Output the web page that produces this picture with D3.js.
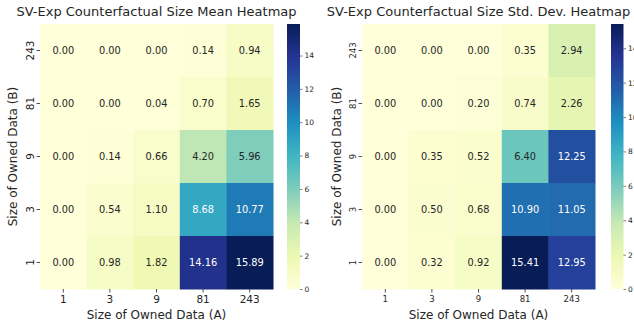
<!DOCTYPE html>
<html>
<head>
<meta charset="utf-8">
<script src="https://cdn.jsdelivr.net/npm/d3@7"></script>
<style>
  body { margin: 0; background: #fff; }
  svg { display: block; font-family: "DejaVu Sans", sans-serif; }
</style>
</head>
<body>
<svg id="chart" width="634" height="324"></svg>
<script>
// categories (A on x, B on y, rows listed top to bottom)
const sizesA = ["1", "3", "9", "81", "243"];
const sizesB = ["243", "81", "9", "3", "1"];

// mean counterfactual size, rows follow sizesB
const meanValues = [
  [0.00, 0.00, 0.00, 0.14, 0.94],
  [0.00, 0.00, 0.04, 0.70, 1.65],
  [0.00, 0.14, 0.66, 4.20, 5.96],
  [0.00, 0.54, 1.10, 8.68, 10.77],
  [0.00, 0.98, 1.82, 14.16, 15.89],
];

// std. dev. of counterfactual size
const stdValues = [
  [0.00, 0.00, 0.00, 0.35, 2.94],
  [0.00, 0.00, 0.20, 0.74, 2.26],
  [0.00, 0.35, 0.52, 6.40, 12.25],
  [0.00, 0.50, 0.68, 10.90, 11.05],
  [0.00, 0.32, 0.92, 15.41, 12.95],
];

const colorbarTicks = [0, 2, 4, 6, 8, 10, 12, 14];

// colorbrewer YlGnBu, interpolated linearly like matplotlib
const ylgnbu = d3.piecewise(d3.interpolateRgb, [
  "#ffffd9", "#edf8b1", "#c7e9b4", "#7fcdbb", "#41b6c4",
  "#1d91c0", "#225ea8", "#253494", "#081d58",
]);

const svg = d3.select("#chart");
const textColor = "#262626";

const panels = [
  {
    title: "SV-Exp Counterfactual Size Mean Heatmap",
    values: meanValues,
    x0: 40, x1: 273, y0: 24, y1: 289,
    cbX: 287, cbW: 13,
    tickFont: 10.5,
  },
  {
    title: "SV-Exp Counterfactual Size Std. Dev. Heatmap",
    values: stdValues,
    x0: 362, x1: 595, y0: 24, y1: 289,
    cbX: 611, cbW: 12.5,
    tickFont: 8.5,
  },
];

function drawPanel(p, idx) {
  const g = svg.append("g").attr("class", "panel-" + idx);
  const vmax = d3.max(p.values.flat());
  const color = d3.scaleSequential(ylgnbu).domain([0, vmax]);

  const xScale = d3.scaleBand().domain(sizesA).range([p.x0, p.x1]);
  const yScale = d3.scaleBand().domain(sizesB).range([p.y0, p.y1]);

  const cells = [];
  p.values.forEach((row, i) => {
    row.forEach((v, j) => cells.push({ a: sizesA[j], b: sizesB[i], v: v }));
  });

  g.selectAll(".cell")
    .data(cells)
    .join("rect")
    .attr("class", "cell")
    .attr("x", (d) => xScale(d.a))
    .attr("y", (d) => yScale(d.b))
    .attr("width", xScale.bandwidth() + 0.5)
    .attr("height", yScale.bandwidth() + 0.5)
    .attr("fill", (d) => color(d.v));

  // seaborn style: dark text on light cells, white on dark ones
  const lum = (c) => {
    const rgb = d3.rgb(c);
    const f = (u) => {
      u = u / 255;
      return u <= 0.03928 ? u / 12.92 : Math.pow((u + 0.055) / 1.055, 2.4);
    };
    return 0.2126 * f(rgb.r) + 0.7152 * f(rgb.g) + 0.0722 * f(rgb.b);
  };

  g.selectAll(".annot")
    .data(cells)
    .join("text")
    .attr("class", "annot")
    .attr("x", (d) => xScale(d.a) + xScale.bandwidth() / 2)
    .attr("y", (d) => yScale(d.b) + yScale.bandwidth() / 2)
    .attr("dy", "0.35em")
    .attr("text-anchor", "middle")
    .attr("font-size", 9.8)
    .attr("fill", (d) => (lum(color(d.v)) > 0.408 ? textColor : "#ffffff"))
    .text((d) => d.v.toFixed(2));

  // x axis
  const xAxis = d3.axisBottom(xScale).tickSize(3.5).tickPadding(3);
  const gx = g.append("g")
    .attr("transform", `translate(0,${p.y1})`)
    .call(xAxis);
  gx.select(".domain").remove();
  gx.selectAll("line").attr("stroke", textColor).attr("stroke-width", 0.8);
  gx.selectAll("text")
    .attr("fill", textColor)
    .attr("font-size", p.tickFont)
    .attr("font-family", "DejaVu Sans");

  // y axis, labels rotated
  const yAxis = d3.axisLeft(yScale).tickSize(3.5).tickPadding(3);
  const gy = g.append("g")
    .attr("transform", `translate(${p.x0},0)`)
    .call(yAxis);
  gy.select(".domain").remove();
  gy.selectAll("line").attr("stroke", textColor).attr("stroke-width", 0.8);
  gy.selectAll("text")
    .attr("fill", textColor)
    .attr("font-size", p.tickFont)
    .attr("font-family", "DejaVu Sans")
    .attr("x", null)
    .attr("dy", null)
    .attr("text-anchor", "middle")
    .attr("transform", `translate(${-6.5},0) rotate(-90)`);

  // titles and labels
  g.append("text")
    .attr("x", (p.x0 + p.x1) / 2)
    .attr("y", 16)
    .attr("text-anchor", "middle")
    .attr("font-size", 13)
    .attr("fill", textColor)
    .text(p.title);

  g.append("text")
    .attr("x", (p.x0 + p.x1) / 2)
    .attr("y", 319)
    .attr("text-anchor", "middle")
    .attr("font-size", 12)
    .attr("fill", textColor)
    .text("Size of Owned Data (A)");

  g.append("text")
    .attr("transform", `translate(${p.x0 - (idx === 0 ? 23 : 21)},${(p.y0 + p.y1) / 2}) rotate(-90)`)
    .attr("text-anchor", "middle")
    .attr("font-size", 12)
    .attr("fill", textColor)
    .text("Size of Owned Data (B)");

  // colorbar
  const cbScale = d3.scaleLinear().domain([0, vmax]).range([p.y1, p.y0]);
  const defs = svg.append("defs");
  const gradId = "grad-" + idx;
  const grad = defs.append("linearGradient")
    .attr("id", gradId)
    .attr("x1", 0).attr("y1", 1).attr("x2", 0).attr("y2", 0);
  d3.range(0, 1.0001, 0.125).forEach((t) => {
    grad.append("stop")
      .attr("offset", t)
      .attr("stop-color", ylgnbu(t));
  });
  g.append("rect")
    .attr("x", p.cbX)
    .attr("y", p.y0)
    .attr("width", p.cbW)
    .attr("height", p.y1 - p.y0)
    .attr("fill", `url(#${gradId})`);

  const cbAxis = d3.axisRight(cbScale)
    .tickValues(colorbarTicks.filter((t) => t <= vmax))
    .tickSize(2.5)
    .tickPadding(2);
  const gc = g.append("g")
    .attr("transform", `translate(${p.cbX + p.cbW},0)`)
    .call(cbAxis);
  gc.select(".domain").remove();
  gc.selectAll("line").attr("stroke", textColor).attr("stroke-width", 0.6);
  gc.selectAll("text")
    .attr("fill", textColor)
    .attr("font-size", 7.5)
    .attr("font-family", "DejaVu Sans");
}

panels.forEach(drawPanel);
</script>
</body>
</html>
